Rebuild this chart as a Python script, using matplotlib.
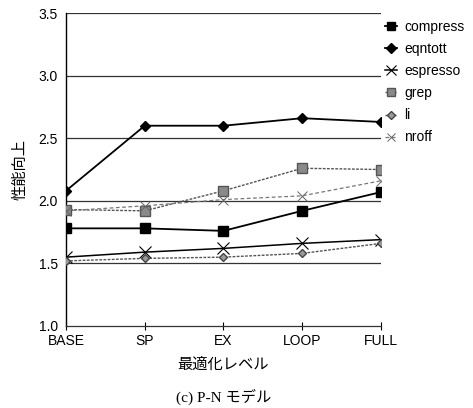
import matplotlib
matplotlib.use("Agg")
import matplotlib.pyplot as plt

levels = ["BASE", "SP", "EX", "LOOP", "FULL"]
compress = [1.78, 1.78, 1.76, 1.92, 2.07]
eqntott = [2.08, 2.60, 2.60, 2.66, 2.63]
espresso = [1.55, 1.59, 1.62, 1.66, 1.69]
grep = [1.93, 1.92, 2.08, 2.26, 2.25]
li = [1.52, 1.54, 1.55, 1.58, 1.66]
nroff = [1.92, 1.96, 2.01, 2.04, 2.16]

plt.rcParams['font.family'] = ['Liberation Sans', 'Noto Sans CJK JP']

fig = plt.figure(figsize=(4.73, 4.08), dpi=100)
ax = fig.add_axes([0.1395, 0.201, 0.666, 0.767])

x = range(len(levels))

# horizontal rules
for yv in [1.5, 2.0, 2.5, 3.0, 3.5]:
    ax.axhline(yv, color="#333333", linewidth=0.9, zorder=1)

ax.plot(x, compress, color="black", linewidth=1.3, marker="s", markersize=7,
        label="compress", zorder=3)
ax.plot(x, eqntott, color="black", linewidth=1.3, marker="D", markersize=5.5,
        label="eqntott", zorder=3)
ax.plot(x, espresso, color="black", linewidth=1.1, marker="x", markersize=8,
        markeredgewidth=0.8, label="espresso", zorder=3)
ax.plot(x, grep, color="#555555", linewidth=1.0, linestyle=(0, (2, 1)), marker="s",
        markersize=6.5, markerfacecolor="#8a8a8a", markeredgecolor="#555555",
        label="grep", zorder=3)
ax.plot(x, li, color="#555555", linewidth=1.0, linestyle=(0, (2, 1)), marker="D",
        markersize=4.5, markerfacecolor="#9a9a9a", markeredgecolor="#444444",
        label="li", zorder=3)
ax.plot(x, nroff, color="#777777", linewidth=0.9, linestyle=(0, (3, 2)), marker="x",
        markersize=6.5, markeredgewidth=0.7, markeredgecolor="#666666",
        label="nroff", zorder=3)

ax.set_xlim(0, 4)
ax.set_ylim(1.0, 3.5)
ax.set_xticks(list(x))
ax.set_xticklabels(levels, fontsize=10)
ax.set_yticks([1.0, 1.5, 2.0, 2.5, 3.0, 3.5])
ax.set_yticklabels(["1.0", "1.5", "2.0", "2.5", "3.0", "3.5"], fontsize=10)
ax.tick_params(axis="y", length=0, pad=6)
ax.tick_params(axis="x", direction="inout", length=6, width=0.8, pad=3)

for s in ["top", "right"]:
    ax.spines[s].set_visible(False)
ax.spines["left"].set_linewidth(1.0)
ax.spines["bottom"].set_linewidth(0.9)
ax.spines["bottom"].set_color("#333333")

ax.set_ylabel("性能向上", fontsize=11, labelpad=8)
ax.set_xlabel("最適化レベル", fontsize=11, labelpad=7)

ax.legend(loc="upper left", bbox_to_anchor=(0.995, 0.995), frameon=False,
          fontsize=10, handlelength=0.9, handletextpad=0.5, labelspacing=0.58,
          borderaxespad=0.0, markerscale=0.9)

fig.text(0.473, 0.027, "(c) P-N モデル", ha="center", va="center", fontsize=11,
         family=['Liberation Serif', 'Noto Sans CJK JP'])

fig.savefig("out.png", dpi=100)
